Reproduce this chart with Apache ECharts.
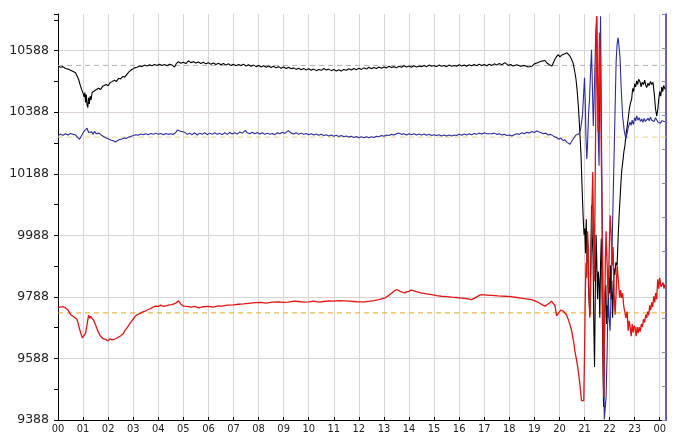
<!DOCTYPE html>
<html><head><meta charset="utf-8">
<script src="https://cdn.jsdelivr.net/npm/echarts@6/dist/echarts.min.js"></script>
<style>html,body{margin:0;padding:0;background:#fff}#c{width:675px;height:435px}</style>
</head><body><div id="c"></div>
<script>
const hourLabels = ['00','01','02','03','04','05','06','07','08','09','10','11','12','13','14','15','16','17','18','19','20','21','22','23','00'];
const yTicks = [9388, 9588, 9788, 9988, 10188, 10388, 10588];

const blackPts = [[0,10537],[0.1,10534],[0.2,10536],[0.3,10530],[0.4,10528],[0.5,10524],[0.6,10520],[0.7,10516],[0.75,10514],[0.82,10495],[0.88,10478],[0.94,10462],[1.0,10450],[1.04,10438],[1.07,10452],[1.1,10420],[1.13,10445],[1.16,10410],[1.19,10403],[1.22,10435],[1.25,10415],[1.28,10440],[1.32,10428],[1.36,10452],[1.42,10448],[1.5,10460],[1.56,10455],[1.62,10466],[1.7,10462],[1.78,10472],[1.85,10468],[1.92,10478],[2.0,10474],[2.08,10484],[2.15,10482],[2.25,10492],[2.33,10488],[2.42,10498],[2.5,10496],[2.58,10504],[2.66,10502],[2.74,10510],[2.82,10518],[2.9,10524],[2.97,10528],[3.05,10532],[3.15,10534],[3.25,10538],[3.35,10536],[3.45,10541],[3.55,10538],[3.65,10542],[3.75,10539],[3.85,10543],[3.95,10540],[4.05,10544],[4.15,10540],[4.25,10543],[4.35,10539],[4.45,10544],[4.55,10541],[4.65,10535],[4.72,10546],[4.8,10552],[4.9,10547],[5.0,10550],[5.1,10546],[5.2,10555],[5.3,10549],[5.4,10552],[5.5,10548],[5.6,10551],[5.7,10546],[5.8,10550],[5.9,10545],[6.0,10549],[6.1,10544],[6.2,10548],[6.3,10543],[6.4,10547],[6.5,10542],[6.6,10546],[6.7,10541],[6.8,10545],[6.9,10540],[7.0,10544],[7.1,10539],[7.2,10543],[7.3,10540],[7.4,10544],[7.5,10538],[7.6,10542],[7.7,10537],[7.8,10541],[7.9,10536],[8.0,10540],[8.1,10535],[8.2,10539],[8.3,10534],[8.4,10538],[8.5,10533],[8.6,10537],[8.7,10532],[8.8,10536],[8.9,10531],[9.0,10535],[9.1,10530],[9.2,10534],[9.3,10529],[9.4,10532],[9.5,10527],[9.6,10531],[9.7,10526],[9.8,10530],[9.9,10525],[10.0,10529],[10.1,10524],[10.2,10528],[10.3,10523],[10.4,10527],[10.5,10524],[10.6,10530],[10.7,10525],[10.8,10528],[10.9,10523],[11.0,10527],[11.1,10522],[11.2,10526],[11.3,10522],[11.4,10527],[11.5,10524],[11.6,10529],[11.7,10525],[11.8,10530],[11.9,10526],[12.0,10531],[12.1,10527],[12.2,10532],[12.3,10528],[12.4,10534],[12.5,10529],[12.6,10533],[12.7,10530],[12.8,10535],[12.9,10531],[13.0,10535],[13.1,10532],[13.2,10537],[13.3,10533],[13.4,10536],[13.5,10532],[13.6,10537],[13.7,10534],[13.8,10539],[13.9,10535],[14.0,10538],[14.1,10534],[14.2,10539],[14.3,10535],[14.4,10538],[14.5,10536],[14.6,10540],[14.7,10536],[14.8,10541],[14.9,10537],[15.0,10540],[15.1,10536],[15.2,10541],[15.3,10537],[15.4,10540],[15.5,10536],[15.6,10541],[15.7,10537],[15.8,10540],[15.9,10537],[16.0,10542],[16.1,10538],[16.2,10541],[16.3,10537],[16.4,10542],[16.5,10539],[16.6,10543],[16.7,10539],[16.8,10544],[16.9,10540],[17.0,10543],[17.1,10539],[17.2,10544],[17.3,10540],[17.4,10545],[17.5,10541],[17.6,10546],[17.7,10542],[17.83,10549],[17.95,10540],[18.05,10543],[18.15,10538],[18.3,10542],[18.45,10537],[18.6,10540],[18.75,10535],[18.9,10537],[19.0,10545],[19.1,10548],[19.2,10551],[19.3,10554],[19.42,10556],[19.5,10548],[19.6,10542],[19.7,10538],[19.76,10540],[19.82,10560],[19.88,10568],[19.95,10575],[20.02,10568],[20.1,10574],[20.16,10570],[20.22,10578],[20.3,10581],[20.36,10576],[20.42,10570],[20.48,10560],[20.54,10549],[20.6,10525],[20.66,10495],[20.71,10455],[20.76,10400],[20.8,10343],[20.86,10250],[20.9,10150],[20.94,10060],[20.98,9990],[21.01,10010],[21.04,9930],[21.07,10040],[21.1,9900],[21.13,9960],[21.16,9820],[21.19,9760],[21.22,9730],[21.25,9900],[21.28,10085],[21.31,9980],[21.34,9920],[21.37,9700],[21.4,9560],[21.43,9800],[21.46,9990],[21.49,9900],[21.52,9780],[21.55,9870],[21.58,9839],[21.61,9720],[21.64,9900],[21.67,9978],[21.7,9800],[21.73,9600],[21.76,9430],[21.79,9600],[21.82,9800],[21.85,9827],[21.88,9700],[21.91,9760],[21.94,9720],[21.97,9850],[22.0,9800],[22.03,9891],[22.06,9780],[22.09,9840],[22.12,9720],[22.15,9800],[22.18,9880],[22.21,9859],[22.25,9900],[22.3,9891],[22.34,9980],[22.38,10053],[22.44,10140],[22.48,10194],[22.53,10230],[22.57,10260],[22.61,10278],[22.66,10320],[22.7,10340],[22.74,10365],[22.79,10400],[22.84,10420],[22.88,10430],[22.92,10465],[22.96,10455],[23.0,10480],[23.04,10470],[23.08,10490],[23.12,10478],[23.16,10495],[23.21,10488],[23.26,10470],[23.3,10485],[23.35,10478],[23.4,10492],[23.44,10475],[23.48,10468],[23.53,10482],[23.58,10474],[23.63,10488],[23.68,10478],[23.73,10485],[23.78,10450],[23.83,10400],[23.88,10375],[23.92,10395],[23.96,10430],[24.0,10455],[24.04,10440],[24.08,10470],[24.12,10455],[24.16,10475],[24.21,10462]];

const bluePts = [[0,10312],[0.1,10316],[0.2,10313],[0.3,10318],[0.4,10314],[0.5,10319],[0.6,10316],[0.7,10314],[0.78,10306],[0.86,10300],[0.92,10304],[0.98,10318],[1.04,10326],[1.1,10332],[1.16,10336],[1.22,10322],[1.28,10318],[1.34,10324],[1.4,10316],[1.46,10326],[1.52,10318],[1.58,10324],[1.64,10320],[1.72,10314],[1.8,10310],[1.9,10305],[2.0,10302],[2.1,10298],[2.2,10295],[2.29,10291],[2.38,10296],[2.46,10299],[2.55,10301],[2.64,10304],[2.73,10303],[2.82,10307],[2.92,10310],[3.0,10312],[3.1,10315],[3.2,10313],[3.3,10317],[3.4,10315],[3.5,10318],[3.6,10315],[3.7,10319],[3.8,10316],[3.9,10320],[4.0,10316],[4.1,10319],[4.2,10315],[4.3,10319],[4.4,10316],[4.5,10318],[4.6,10316],[4.7,10322],[4.76,10330],[4.81,10336],[4.88,10326],[4.95,10320],[5.05,10323],[5.15,10316],[5.25,10320],[5.35,10315],[5.45,10321],[5.55,10314],[5.65,10320],[5.75,10316],[5.85,10321],[5.95,10315],[6.05,10320],[6.15,10316],[6.25,10321],[6.35,10316],[6.45,10320],[6.55,10315],[6.65,10321],[6.75,10316],[6.85,10322],[6.95,10317],[7.05,10321],[7.15,10317],[7.25,10324],[7.35,10320],[7.47,10329],[7.55,10321],[7.65,10318],[7.75,10323],[7.85,10318],[7.95,10322],[8.05,10317],[8.15,10321],[8.25,10316],[8.35,10320],[8.45,10316],[8.55,10319],[8.65,10315],[8.75,10321],[8.85,10318],[8.95,10323],[9.05,10319],[9.19,10328],[9.3,10320],[9.4,10317],[9.5,10321],[9.6,10316],[9.7,10320],[9.8,10316],[9.9,10319],[10.0,10315],[10.1,10318],[10.2,10314],[10.3,10317],[10.4,10313],[10.5,10316],[10.6,10312],[10.7,10315],[10.8,10311],[10.9,10314],[11.0,10310],[11.1,10313],[11.2,10309],[11.3,10312],[11.4,10308],[11.5,10311],[11.6,10307],[11.7,10310],[11.8,10306],[11.9,10309],[12.0,10305],[12.1,10308],[12.2,10305],[12.3,10308],[12.4,10305],[12.5,10308],[12.6,10306],[12.7,10310],[12.8,10308],[12.9,10312],[13.0,10310],[13.1,10314],[13.2,10312],[13.3,10316],[13.4,10314],[13.5,10318],[13.6,10320],[13.7,10316],[13.8,10318],[13.9,10314],[14.0,10318],[14.1,10315],[14.2,10318],[14.3,10314],[14.4,10317],[14.5,10314],[14.6,10317],[14.7,10313],[14.8,10316],[14.9,10312],[15.0,10315],[15.1,10312],[15.2,10315],[15.3,10311],[15.4,10314],[15.5,10311],[15.6,10314],[15.7,10311],[15.8,10314],[15.9,10312],[16.0,10316],[16.1,10313],[16.2,10317],[16.3,10314],[16.4,10318],[16.5,10315],[16.6,10319],[16.7,10316],[16.8,10320],[16.9,10317],[17.0,10321],[17.1,10318],[17.16,10323],[17.3,10318],[17.4,10320],[17.5,10316],[17.6,10318],[17.7,10314],[17.8,10316],[17.9,10312],[18.0,10314],[18.1,10311],[18.2,10315],[18.3,10318],[18.4,10316],[18.5,10321],[18.6,10318],[18.7,10323],[18.8,10320],[18.9,10325],[19.0,10322],[19.1,10327],[19.16,10330],[19.25,10322],[19.35,10318],[19.45,10320],[19.55,10314],[19.65,10316],[19.75,10311],[19.82,10313],[19.9,10305],[19.98,10300],[20.06,10304],[20.14,10296],[20.22,10298],[20.3,10290],[20.36,10288],[20.42,10284],[20.48,10292],[20.54,10300],[20.6,10306],[20.66,10314],[20.72,10320],[20.78,10318],[20.84,10330],[20.88,10333],[20.92,10380],[20.96,10440],[21.0,10500],[21.03,10420],[21.06,10300],[21.09,10236],[21.12,10280],[21.16,10380],[21.2,10430],[21.24,10520],[21.28,10591],[21.32,10450],[21.35,10343],[21.38,10420],[21.41,10517],[21.45,10650],[21.49,10700],[21.52,10500],[21.55,10300],[21.58,10214],[21.61,10500],[21.64,10700],[21.67,10400],[21.7,10100],[21.73,9900],[21.76,9600],[21.79,9390],[21.82,9390],[21.86,9462],[21.9,9600],[21.94,9785],[21.98,9720],[22.02,9678],[22.06,9800],[22.1,9950],[22.14,10100],[22.18,10250],[22.22,10400],[22.26,10550],[22.3,10610],[22.34,10630],[22.38,10600],[22.42,10560],[22.46,10470],[22.52,10375],[22.58,10330],[22.65,10301],[22.7,10320],[22.75,10340],[22.81,10356],[22.86,10345],[22.9,10362],[22.95,10348],[23.0,10370],[23.04,10360],[23.08,10376],[23.13,10362],[23.18,10370],[23.23,10358],[23.28,10366],[23.33,10355],[23.38,10368],[23.43,10358],[23.48,10356],[23.53,10368],[23.58,10360],[23.63,10372],[23.68,10362],[23.73,10368],[23.78,10358],[23.83,10370],[23.88,10365],[23.93,10356],[23.98,10362],[24.03,10352],[24.08,10360],[24.13,10354],[24.21,10357]];

const redPts = [[0,9752],[0.08,9755],[0.15,9753],[0.22,9756],[0.3,9752],[0.4,9745],[0.5,9731],[0.58,9726],[0.65,9722],[0.76,9715],[0.84,9690],[0.9,9672],[0.97,9655],[1.03,9650],[1.1,9670],[1.16,9699],[1.22,9729],[1.26,9718],[1.3,9725],[1.36,9726],[1.42,9712],[1.49,9699],[1.6,9675],[1.69,9661],[1.8,9652],[1.89,9650],[1.95,9654],[2.0,9645],[2.08,9652],[2.16,9648],[2.23,9654],[2.3,9652],[2.4,9657],[2.49,9661],[2.6,9668],[2.68,9680],[2.76,9688],[2.84,9698],[2.9,9705],[3.0,9716],[3.09,9726],[3.2,9732],[3.3,9735],[3.4,9740],[3.49,9742],[3.6,9747],[3.7,9750],[3.8,9755],[3.88,9758],[4.0,9757],[4.1,9761],[4.2,9757],[4.3,9759],[4.45,9762],[4.55,9763],[4.7,9768],[4.81,9775],[4.9,9764],[5.01,9758],[5.15,9757],[5.3,9755],[5.45,9757],[5.61,9752],[5.8,9756],[6.0,9757],[6.2,9755],[6.4,9759],[6.54,9758],[6.75,9761],[7.0,9762],[7.2,9764],[7.4,9765],[7.6,9767],[7.87,9769],[8.1,9770],[8.3,9768],[8.55,9771],[8.8,9772],[9.0,9770],[9.19,9771],[9.4,9774],[9.6,9773],[9.8,9771],[10.0,9772],[10.2,9774],[10.4,9771],[10.6,9773],[10.8,9775],[11.0,9774],[11.19,9776],[11.4,9775],[11.6,9774],[11.8,9773],[12.0,9772],[12.25,9772],[12.45,9774],[12.6,9776],[12.8,9779],[13.05,9785],[13.2,9793],[13.3,9800],[13.42,9808],[13.51,9812],[13.58,9808],[13.65,9806],[13.75,9803],[13.84,9801],[13.92,9805],[14.0,9806],[14.08,9810],[14.17,9808],[14.3,9805],[14.5,9800],[14.7,9798],[14.91,9795],[15.1,9792],[15.3,9790],[15.5,9789],[15.7,9787],[15.9,9786],[16.1,9784],[16.3,9782],[16.5,9779],[16.6,9783],[16.7,9788],[16.8,9793],[16.9,9795],[17.1,9794],[17.3,9793],[17.55,9791],[17.83,9790],[18.05,9789],[18.3,9786],[18.45,9784],[18.6,9782],[18.75,9781],[18.89,9779],[19.05,9774],[19.2,9768],[19.32,9762],[19.42,9758],[19.52,9763],[19.6,9768],[19.68,9774],[19.75,9779],[19.82,9760],[19.89,9726],[19.95,9731],[20.05,9745],[20.1,9740],[20.15,9742],[20.22,9742],[20.28,9730],[20.35,9715],[20.42,9698],[20.49,9677],[20.56,9645],[20.62,9610],[20.69,9580],[20.75,9548],[20.82,9500],[20.88,9451],[20.94,9448],[20.97,9451],[21.0,9600],[21.03,9785],[21.06,9900],[21.09,9850],[21.12,10001],[21.15,9950],[21.18,9800],[21.21,9720],[21.24,9800],[21.27,9950],[21.3,10100],[21.33,10194],[21.36,10000],[21.39,9839],[21.42,10100],[21.45,10400],[21.48,10700],[21.51,10500],[21.54,10323],[21.57,10500],[21.6,10646],[21.63,10550],[21.66,10323],[21.69,10100],[21.72,9800],[21.75,9550],[21.77,9462],[21.8,9700],[21.83,9900],[21.86,10001],[21.9,9900],[21.94,9785],[21.98,9920],[22.02,10053],[22.06,10000],[22.1,9891],[22.14,9950],[22.18,9800],[22.22,9730],[22.26,9800],[22.3,9891],[22.34,9850],[22.4,9785],[22.44,9810],[22.48,9785],[22.52,9800],[22.56,9760],[22.61,9763],[22.65,9720],[22.7,9740],[22.74,9678],[22.78,9710],[22.82,9690],[22.86,9660],[22.9,9700],[22.94,9672],[22.98,9695],[23.02,9688],[23.06,9660],[23.1,9690],[23.14,9670],[23.18,9690],[23.22,9675],[23.27,9700],[23.31,9690],[23.35,9715],[23.4,9705],[23.44,9730],[23.48,9720],[23.52,9740],[23.56,9728],[23.6,9760],[23.64,9745],[23.68,9770],[23.72,9755],[23.76,9790],[23.8,9770],[23.84,9800],[23.88,9780],[23.92,9845],[23.96,9815],[24.0,9850],[24.05,9820],[24.09,9817],[24.13,9835],[24.17,9815],[24.21,9827]];

const refBlack = 10540, refBlue = 10307, refRed = 9736;
const xMin = 0, xMax = 24.25;
const gridColor = '#dcd4d4';

function refSeries(value, color) {
  return {
    type: 'line', data: [[xMin, value], [xMax, value]], showSymbol: false, silent: true, z: 1,
    lineStyle: {color: color, type: [5, 4], width: 1}, itemStyle: {color: color}
  };
}

const chart = echarts.init(document.getElementById('c'), null, {renderer: 'canvas'});
chart.setOption({
  animation: false,
  backgroundColor: '#fff',
  grid: {left: 58, right: 9, top: 14, bottom: 13, containLabel: false},
  xAxis: {
    type: 'value', min: xMin, max: xMax, interval: 1,
    axisLine: {onZero: false, lineStyle: {color: '#000', width: 1}},
    axisTick: {show: true, inside: true, length: 3, lineStyle: {color: '#000'}},
    splitLine: {show: true, lineStyle: {color: gridColor, width: 1}},
    axisLabel: {
      margin: 4, fontFamily: 'DejaVu Sans Condensed', fontSize: 11, color: '#222',
      showMaxLabel: false,
      formatter: v => Number.isInteger(v) ? (hourLabels[v] || '') : ''
    }
  },
  yAxis: [{
    type: 'value', min: 9388, max: 10707, interval: 200,
    axisLine: {show: true, lineStyle: {color: '#000', width: 1}},
    axisTick: {show: true, inside: false, length: 4, lineStyle: {color: '#000'}},
    minorTick: {show: true, splitNumber: 2, length: 4, lineStyle: {color: '#000'}},
    splitLine: {show: true, showMaxLine: false, lineStyle: {color: gridColor, width: 1}},
    axisLabel: {
      margin: 9, fontFamily: 'DejaVu Sans', fontSize: 12.5, color: '#222',
      showMaxLabel: false,
      formatter: v => yTicks.indexOf(v) >= 0 ? String(v) : ''
    }
  }, {
    type: 'value', position: 'right', min: 0, max: 12, interval: 1,
    axisLine: {show: true, lineStyle: {color: '#3636a8', width: 1.5}},
    axisTick: {show: true, inside: true, length: 4, lineStyle: {color: '#8888bb'}},
    splitLine: {show: false},
    axisLabel: {show: false}
  }],
  series: [
    refSeries(refBlack, '#b0b0b0'),
    refSeries(refBlue, '#e6d58a'),
    refSeries(refRed, '#e3a820'),
    {
      type: 'line', name: 'black', data: blackPts, showSymbol: false, z: 2,
      lineStyle: {color: '#000', width: 1.1}, itemStyle: {color: '#000'}
    }, {
      type: 'line', name: 'blue', data: bluePts, showSymbol: false, z: 2,
      lineStyle: {color: '#2c2c9c', width: 1.1}, itemStyle: {color: '#2c2c9c'}
    }, {
      type: 'line', name: 'red', data: redPts, showSymbol: false, z: 3,
      lineStyle: {color: '#e01414', width: 1.3}, itemStyle: {color: '#e01414'}
    }
  ]
});
</script></body></html>
